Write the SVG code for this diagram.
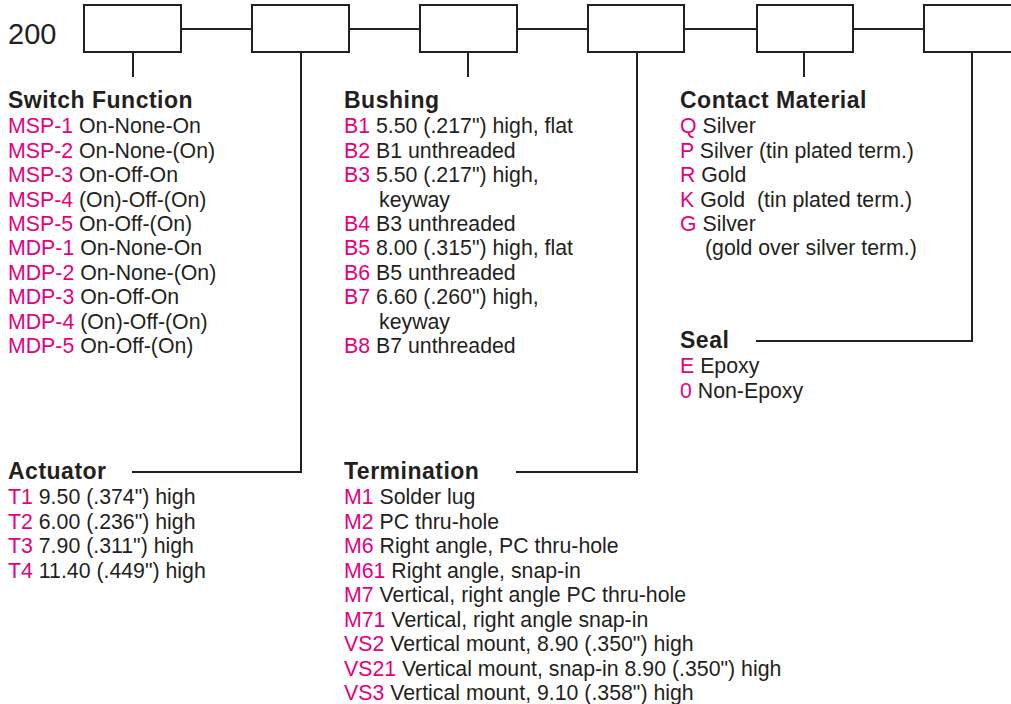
<svg xmlns="http://www.w3.org/2000/svg" width="1011" height="704" viewBox="0 0 1011 704">
<style>
.bx{fill:#fff;stroke:#231F20;stroke-width:2}
.ln{fill:none;stroke:#231F20;stroke-width:2}
text{font-family:"Liberation Sans",Arial,sans-serif;fill:#231F20}
.h{font-size:23px;font-weight:bold;letter-spacing:0.5px}
.t{font-size:21.3px}
.c{fill:#E6007E}
</style>
<rect width="1011" height="704" fill="#fff"/>
<text x="8" y="44" style="font-size:29px">200</text>
<g id="connectors">
<path class="ln" d="M181 29H252M349 29H420M517 29H588M684 29H757M853 29H924"/>
<path class="ln" d="M133 52V77"/>
<path class="ln" d="M301 52V472H132"/>
<path class="ln" d="M468 52V77"/>
<path class="ln" d="M637 52V472H516"/>
<path class="ln" d="M804 52V77"/>
<path class="ln" d="M972 52V341H756"/>
</g>
<g id="box1"><rect class="bx" x="84" y="5" width="97" height="47"/></g>
<g id="box2"><rect class="bx" x="252" y="5" width="97" height="47"/></g>
<g id="box3"><rect class="bx" x="420" y="5" width="97" height="47"/></g>
<g id="box4"><rect class="bx" x="588" y="5" width="96" height="47"/></g>
<g id="box5"><rect class="bx" x="757" y="5" width="96" height="47"/></g>
<g id="box6"><rect class="bx" x="924" y="5" width="100" height="47"/></g>
<g id="switch-function">
<text class="h" x="8" y="108">Switch Function</text>
<text class="t" x="8" y="133"><tspan class="c">MSP-1</tspan> On-None-On</text>
<text class="t" x="8" y="157.5"><tspan class="c">MSP-2</tspan> On-None-(On)</text>
<text class="t" x="8" y="182"><tspan class="c">MSP-3</tspan> On-Off-On</text>
<text class="t" x="8" y="206.5"><tspan class="c">MSP-4</tspan> (On)-Off-(On)</text>
<text class="t" x="8" y="231"><tspan class="c">MSP-5</tspan> On-Off-(On)</text>
<text class="t" x="8" y="255"><tspan class="c">MDP-1</tspan> On-None-On</text>
<text class="t" x="8" y="279.5"><tspan class="c">MDP-2</tspan> On-None-(On)</text>
<text class="t" x="8" y="304"><tspan class="c">MDP-3</tspan> On-Off-On</text>
<text class="t" x="8" y="328.5"><tspan class="c">MDP-4</tspan> (On)-Off-(On)</text>
<text class="t" x="8" y="353"><tspan class="c">MDP-5</tspan> On-Off-(On)</text>
</g>
<g id="bushing">
<text class="h" x="344" y="108">Bushing</text>
<text class="t" x="344" y="133"><tspan class="c">B1</tspan> 5.50 (.217") high, flat</text>
<text class="t" x="344" y="157.5"><tspan class="c">B2</tspan> B1 unthreaded</text>
<text class="t" x="344" y="182"><tspan class="c">B3</tspan> 5.50 (.217") high,</text>
<text class="t" x="379" y="206.5">keyway</text>
<text class="t" x="344" y="231"><tspan class="c">B4</tspan> B3 unthreaded</text>
<text class="t" x="344" y="255"><tspan class="c">B5</tspan> 8.00 (.315") high, flat</text>
<text class="t" x="344" y="279.5"><tspan class="c">B6</tspan> B5 unthreaded</text>
<text class="t" x="344" y="304"><tspan class="c">B7</tspan> 6.60 (.260") high,</text>
<text class="t" x="379" y="328.5">keyway</text>
<text class="t" x="344" y="353"><tspan class="c">B8</tspan> B7 unthreaded</text>
</g>
<g id="contact-material">
<text class="h" x="680" y="108">Contact Material</text>
<text class="t" x="680" y="133"><tspan class="c">Q</tspan> Silver</text>
<text class="t" x="680" y="157.5"><tspan class="c">P</tspan> Silver (tin plated term.)</text>
<text class="t" x="680" y="182"><tspan class="c">R</tspan> Gold</text>
<text class="t" x="680" y="206.5" xml:space="preserve"><tspan class="c">K</tspan> Gold  (tin plated term.)</text>
<text class="t" x="680" y="231"><tspan class="c">G</tspan> Silver</text>
<text class="t" x="705" y="255">(gold over silver term.)</text>
</g>
<g id="seal">
<text class="h" x="680" y="348">Seal</text>
<text class="t" x="680" y="373"><tspan class="c">E</tspan> Epoxy</text>
<text class="t" x="680" y="398"><tspan class="c">0</tspan> Non-Epoxy</text>
</g>
<g id="actuator">
<text class="h" x="8" y="479">Actuator</text>
<text class="t" x="8" y="504"><tspan class="c">T1</tspan> 9.50 (.374") high</text>
<text class="t" x="8" y="528.5"><tspan class="c">T2</tspan> 6.00 (.236") high</text>
<text class="t" x="8" y="553"><tspan class="c">T3</tspan> 7.90 (.311") high</text>
<text class="t" x="8" y="577.5"><tspan class="c">T4</tspan> 11.40 (.449") high</text>
</g>
<g id="termination">
<text class="h" x="344" y="479">Termination</text>
<text class="t" x="344" y="504"><tspan class="c">M1</tspan> Solder lug</text>
<text class="t" x="344" y="528.5"><tspan class="c">M2</tspan> PC thru-hole</text>
<text class="t" x="344" y="553"><tspan class="c">M6</tspan> Right angle, PC thru-hole</text>
<text class="t" x="344" y="577.5"><tspan class="c">M61</tspan> Right angle, snap-in</text>
<text class="t" x="344" y="602"><tspan class="c">M7</tspan> Vertical, right angle PC thru-hole</text>
<text class="t" x="344" y="626.5"><tspan class="c">M71</tspan> Vertical, right angle snap-in</text>
<text class="t" x="344" y="651"><tspan class="c">VS2</tspan> Vertical mount, 8.90 (.350") high</text>
<text class="t" x="344" y="675.5"><tspan class="c">VS21</tspan> Vertical mount, snap-in 8.90 (.350") high</text>
<text class="t" x="344" y="700"><tspan class="c">VS3</tspan> Vertical mount, 9.10 (.358") high</text>
</g>
</svg>
